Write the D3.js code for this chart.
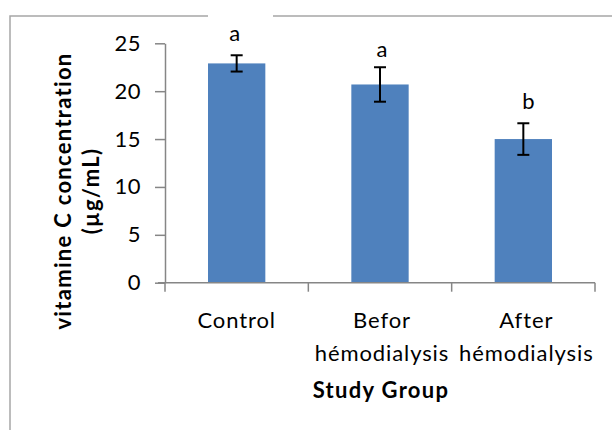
<!DOCTYPE html>
<html><head><meta charset="utf-8">
<script src="https://cdn.jsdelivr.net/npm/d3@7"></script>
<style>body{margin:0;background:#fff}svg{display:block}text{font-family:Lato,"Open Sans",sans-serif;fill:#000}</style>
</head><body>
<svg id="c" width="612" height="430"></svg>
<script>
const categories = ["Control", "Befor\nhémodialysis", "After\nhémodialysis"];
const values = [22.9, 20.7, 15.0];
const errors = [0.85, 1.8, 1.65];
const letters = ["a", "a", "b"];
const yTicks = [0, 5, 10, 15, 20, 25];

const svg = d3.select("#c");
const M = {left:165, right:595, top:43.3, bottom:282.7};

// outer border with gap at top
svg.append("path")
  .attr("d", `M208,16 H10 V432 M273,16 H614`)
  .attr("fill","none").attr("stroke","#a6a6a6").attr("stroke-width",1.5);

const x = d3.scaleBand().domain(categories).range([M.left, M.right]).paddingInner(0.6).paddingOuter(0.3);
const y = d3.scaleLinear().domain([0,25]).range([M.bottom, M.top]);

// bars
svg.selectAll("rect.bar").data(categories).join("rect")
  .attr("x", d=>x(d)).attr("width", x.bandwidth())
  .attr("y", (d,i)=>y(values[i])).attr("height",(d,i)=>y(0)-y(values[i]))
  .attr("fill","#4f81bd");

// error bars
const eb = svg.append("g").attr("stroke","#000").attr("stroke-width",2);
categories.forEach((c,i)=>{
  const cx = x(c)+x.bandwidth()/2;
  const t = y(values[i]+errors[i]), b = y(values[i]-errors[i]);
  eb.append("line").attr("x1",cx).attr("x2",cx).attr("y1",t).attr("y2",b);
  eb.append("line").attr("x1",cx-6).attr("x2",cx+6).attr("y1",t).attr("y2",t);
  eb.append("line").attr("x1",cx-6).attr("x2",cx+6).attr("y1",b).attr("y2",b);
  svg.append("text").attr("x",cx+ (i===2?5:(i===1?2:-2))).attr("y", t-(i===1?10:14))
    .attr("text-anchor","middle").attr("font-size",22).text(letters[i]);
});

// y axis
const yAxis = svg.append("g").attr("transform",`translate(${M.left},0)`)
  .call(d3.axisLeft(y).tickValues(yTicks).tickSize(10).tickPadding(14).tickSizeOuter(0));
yAxis.select(".domain").attr("stroke","#868686").attr("stroke-width",1.5);
yAxis.selectAll(".tick line").attr("stroke","#868686").attr("stroke-width",1.5);
yAxis.selectAll(".tick text").attr("font-size",22).attr("font-family","Lato,sans-serif")
  .attr("fill","#000").attr("letter-spacing",0.5);

// x axis
const xb = d3.scaleBand().domain(categories).range([M.left, M.right]);
const xAxis = svg.append("g").attr("transform",`translate(0,${M.bottom})`);
xAxis.append("line").attr("x1",M.left-7).attr("x2",M.right).attr("y1",0).attr("y2",0)
  .attr("stroke","#868686").attr("stroke-width",1.5);
const bounds = categories.map(c=>xb(c)).concat([M.right]);
xAxis.selectAll("line.t").data(bounds).join("line").attr("class","t")
  .attr("x1",d=>d).attr("x2",d=>d).attr("y1",0).attr("y2",9)
  .attr("stroke","#868686").attr("stroke-width",1.5);
categories.forEach((c,i)=>{
  const cx = xb(c)+xb.bandwidth()/2 + (i===2?3:(i===1?2:0));
  const t = xAxis.append("text").attr("text-anchor","middle").attr("font-size",22).attr("letter-spacing",0.9);
  c.split("\n").forEach((line,j)=>{
    t.append("tspan").attr("x",cx).attr("y",45+j*33).text(line);
  });
});

// axis titles
svg.append("text").attr("x", 381).attr("y", 398).attr("text-anchor","middle")
  .attr("font-size",22).attr("font-weight","bold").attr("letter-spacing",1.3).text("Study Group");
const yt = svg.append("text").attr("transform","translate(0,191) rotate(-90)")
  .attr("text-anchor","middle").attr("font-size",22).attr("font-weight","bold").attr("letter-spacing",1.3);
yt.append("tspan").attr("x",0).attr("y",71).text("vitamine C concentration");
yt.append("tspan").attr("x",0).attr("y",99).text("(µg/mL)");
</script>
</body></html>
